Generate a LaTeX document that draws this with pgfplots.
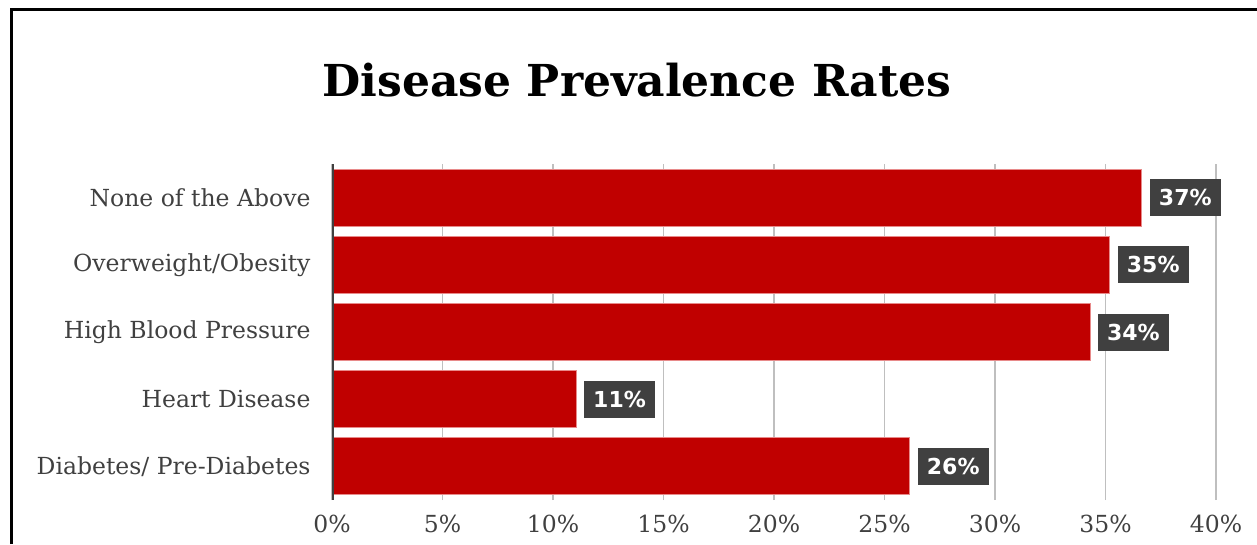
\documentclass[border=0pt]{standalone}
\usepackage{pgfplots}
\pgfplotsset{compat=1.18}
\usepackage{fontspec}
\setmainfont{DejaVu Serif}
\newfontfamily\labelfont{DejaVu Sans}

\definecolor{barred}{HTML}{C00000}
\definecolor{baredge}{HTML}{E88A8A}
\definecolor{darkgray}{HTML}{404040}
\definecolor{gridgray}{HTML}{BFBFBF}

\begin{document}
\begin{tikzpicture}[x=1pt,y=1pt]
\path[use as bounding box] (0,0) rectangle (1257,-544);
% outer frame (left and top edges)
\draw[line width=3pt, black] (11,-544) -- (11,-9) -- (1260,-9);
% title
\node[font=\fontsize{44}{48}\selectfont\bfseries, text=black] at (637,-80) {Disease Prevalence Rates};

\begin{axis}[
  at={(332pt,-500pt)}, anchor=south west,
  scale only axis, width=884pt, height=336pt,
  xbar, bar width=57pt,
  xmin=0, xmax=40, ymin=-0.5, ymax=4.5,
  xtick={0,5,...,40},
  ytick={0,1,2,3,4},
  yticklabels={Diabetes/ Pre-Diabetes, Heart Disease, High Blood Pressure, Overweight/Obesity, None of the Above},
  xticklabel={\pgfmathprintnumber{\tick}\%},
  /pgf/number format/assume math mode=true,
  major tick length=0pt,
  xmajorgrids, grid style={gridgray, line width=1.5pt},
  axis x line*=bottom, x axis line style={draw=none},
  axis y line*=left, y axis line style={draw=none},
  tick label style={text=darkgray, font=\fontsize{23.5}{26}\selectfont},
  xticklabel style={yshift=-12pt},
  yticklabel style={xshift=-18pt},
  point meta=x,
  nodes near coords={\pgfmathprintnumber[fixed,precision=0]{\pgfplotspointmeta}\%},
  every node near coord/.append style={anchor=west, xshift=8pt, fill=darkgray, text=white,
    font=\labelfont\bfseries\fontsize{22}{24}\selectfont, inner xsep=9pt,
    minimum height=37pt, outer sep=0pt},
]
\addplot[fill=barred, draw=baredge, line width=1pt] coordinates {
  (26.15,0) (11.05,1) (34.3,2) (35.2,3) (36.65,4)
};
% vertical category axis line, drawn over the bar bases
\draw[darkgray, line width=3pt] (axis cs:0,-0.5) -- (axis cs:0,4.5);
\end{axis}
\end{tikzpicture}
\end{document}
